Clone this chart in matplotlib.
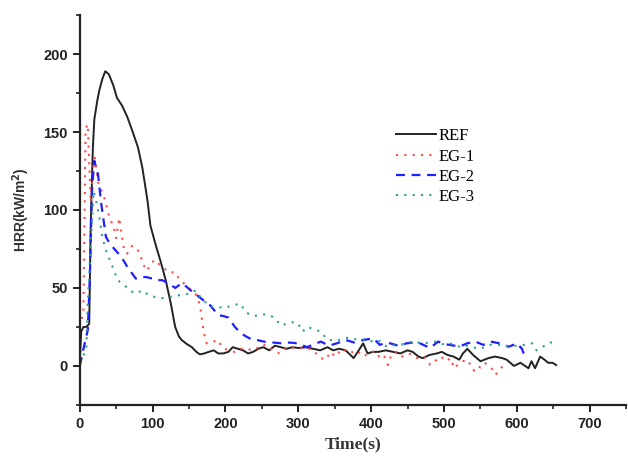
import numpy as np
import matplotlib.pyplot as plt

plt.rcParams['font.family'] = 'Liberation Sans'

# okunan degerler (zaman s, HRR kW/m2)
ref_t = [0, 2, 5, 9, 13, 15, 18, 20, 24, 27, 31, 35, 40, 46, 51, 58, 65, 72, 80, 86, 93, 97, 104, 111, 118, 125, 131, 136, 140, 147, 154, 160, 165, 171, 177, 184, 190, 197, 204, 210, 217, 224, 231, 238, 245, 252, 260, 268, 276, 284, 292, 300, 310, 320, 330, 340, 348, 356, 365, 376, 383, 389, 395, 402, 410, 420, 430, 440, 450, 457, 465, 471, 480, 490, 497, 505, 513, 521, 526, 532, 540, 550, 561, 570, 580, 586, 596, 605, 616, 620, 625, 632, 638, 643, 649, 654]
ref_v = [2, 22, 25, 25, 27, 90, 140, 158, 170, 177, 184, 189, 187, 180, 172, 167, 160, 151, 140, 127, 106, 90, 78, 67, 55, 40, 25, 19, 16.6, 14, 12, 9, 7.4, 8, 9, 10, 8, 8, 9, 12, 11, 10, 8, 9, 11, 12, 10, 13, 12, 11, 12, 11.5, 12, 11, 10, 12, 10, 11, 10, 5, 10, 14.5, 8, 9, 9, 10, 9, 8, 10, 9, 6, 5, 7, 8, 9, 7, 6, 4, 8, 11, 7, 3, 5, 6, 5, 4, 0, 2, -1.5, 3, -1.5, 6, 4, 2, 2, 0.6]

eg1_t = [0, 5, 8, 11, 15, 20, 25, 32, 35, 41, 46, 50, 54, 61, 65, 72, 79, 82, 91, 97, 102, 107, 115, 122, 131, 136, 145, 152, 159, 163, 166, 170, 174, 181, 186, 190, 195, 204, 213, 222, 231, 240, 247, 254, 262, 268, 274, 282, 290, 300, 310, 320, 331, 338, 344, 351, 360, 370, 380, 389, 397, 405, 411, 417, 423, 428, 435, 442, 451, 457, 463, 470, 476, 481, 490, 496, 503, 509, 514, 521, 526, 532, 541, 546, 550, 556, 561, 566, 571, 576, 582]
eg1_v = [25, 35, 152, 155, 105, 136, 118, 110, 106, 94.5, 90, 82, 95, 74, 72, 77, 75, 72, 61, 64, 68, 66, 63, 60, 60, 56, 52, 49, 46, 42, 36, 22, 14.5, 15, 16, 16.6, 12, 10, 9, 11, 10, 12, 11, 13.5, 11, 10, 8, 11, 12, 11, 12, 10, 5, 4, 9, 6, 11, 8, 10, 6, 8, 9.6, 6, 7.5, 0.6, 7.5, 9, 6, 8, 7, 5, 6, 5, 0.6, 4, 6, 3, 5, -1.5, 1.7, 3, 4, -3, 0, -1, 2, 0, -2, -5.7, -2, 0]

eg2_t = [0, 2, 7, 11, 13.6, 15.4, 17, 20, 25, 29.5, 36, 42, 47.5, 57, 66, 77, 84, 91, 100, 106, 113, 122, 131, 140, 146, 152, 158, 163, 170, 177, 184, 190, 197, 204, 213, 221, 229, 236, 243, 254, 265, 277, 288, 299, 312, 322, 331, 342, 353, 365, 377, 389, 403, 412, 420, 426, 437, 449, 458, 467, 481, 492, 500, 508, 521, 527, 532, 543, 554, 564, 576, 589, 600, 607, 611]
eg2_v = [0, 4, 15, 23, 53, 85, 115, 131.5, 123, 104, 82.6, 78, 75, 70, 63, 56, 57, 57, 56, 55, 55, 53, 50, 53, 51, 48.5, 47, 44.5, 42, 40, 36, 32.6, 32, 31, 25, 21, 18.7, 17, 16.6, 15.5, 15, 14.5, 15, 14.5, 12, 14, 15.6, 13, 14.5, 16.6, 15, 16.6, 17.7, 13.5, 15, 14.5, 13, 14.5, 15, 14.5, 11.5, 15.6, 14, 13.5, 12.4, 13.5, 14.5, 15.6, 13.5, 15.6, 14.5, 12.3, 14.5, 11, 6]

eg3_t = [0, 4.5, 9, 11, 15, 19, 22, 27, 31, 36, 43, 52, 63, 70, 77, 86, 93, 100, 113, 127, 138, 152, 159, 168, 175, 181, 190, 197, 204, 212, 220, 229, 240, 249, 258, 267, 276, 284, 292, 299, 306, 312, 319, 326, 333, 339, 351, 358, 367, 380, 394, 405, 412, 421, 435, 446, 457, 471, 480, 489, 498, 508, 521, 527, 538, 550, 563, 576, 589, 600, 610, 621, 627, 636, 645, 652]
eg3_v = [10, 6, 11, 40, 78, 112, 107, 95, 82.6, 74, 66, 55, 51, 48, 46.4, 48.5, 46, 44.5, 43.5, 44.5, 45.5, 46.4, 48.5, 42.5, 40, 38, 38, 37, 38, 39, 40, 34, 32, 33, 33, 31, 26, 27, 28, 27.7, 22, 25, 24, 23, 21, 17, 16, 17, 18, 17, 17, 15, 16, 12.5, 13.5, 14, 15.6, 14.5, 15, 15.6, 14, 14.5, 12.4, 13.5, 12, 11, 13.5, 13.5, 12.4, 13, 13.5, 14.5, 10, 12.4, 15, 15]

fig = plt.figure(figsize=(6.28, 4.57), dpi=100)
ax = fig.add_axes([0.127, 0.114, 0.87, 0.853])

ax.plot(ref_t, ref_v, color='#222222', lw=1.4, label='REF')
ax.plot(eg1_t, eg1_v, color='#ff4a4a', lw=1.5, linestyle=(0, (1, 3)), label='EG-1')
ax.plot(eg2_t, eg2_v, color='#1f1fff', lw=1.6, linestyle=(0, (4, 3)), label='EG-2')
ax.plot(eg3_t, eg3_v, color='#2e9e96', lw=1.5, linestyle=(0, (1, 3)), label='EG-3')

ax.set_xlim(0, 745)
ax.set_ylim(-25, 225)
ax.set_xticks(np.arange(0, 701, 100))
ax.set_xticks(np.arange(50, 751, 100), minor=True)
ax.set_yticks(np.arange(0, 201, 50))
ax.set_yticks(np.arange(-25, 226, 50), minor=True)
ax.set_xticklabels([str(v) for v in range(0, 701, 100)], fontfamily='Liberation Sans', fontweight='bold', fontsize=10.5, color='#333333')
ax.set_yticklabels([str(v) for v in range(0, 201, 50)], fontfamily='Liberation Sans', fontweight='bold', fontsize=10.5, color='#333333')

for s in ['top', 'right']:
    ax.spines[s].set_visible(False)
for s in ['left', 'bottom']:
    ax.spines[s].set_linewidth(1.6)
    ax.spines[s].set_color('#222222')

ax.tick_params(which='major', direction='out', length=5, width=1.4, colors='#222222')
ax.tick_params(which='minor', direction='out', length=3, width=1.2, colors='#222222')

ax.set_ylabel('HRR(kW/m$^\\mathbf{2}$)', fontfamily='Liberation Sans', fontweight='bold', fontsize=10, color='#333333', labelpad=8)
ax.set_xlabel('Time(s)', fontfamily='Liberation Serif', fontweight='bold', fontsize=12.5, color='#333333', labelpad=4)

leg = ax.legend(loc='upper left', bbox_to_anchor=(0.552, 0.748), frameon=False, handlelength=2.4, handletextpad=0.12, labelspacing=0.26,
                prop={'family': 'Liberation Serif', 'size': 12})

plt.savefig('out.png', dpi=100)
plt.close()
